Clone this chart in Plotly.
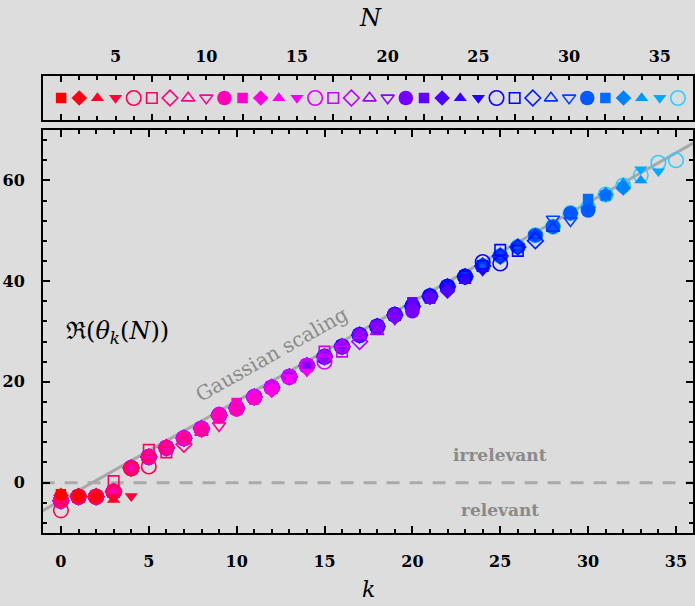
import colorsys
import plotly.graph_objects as go

# ---------------- data ----------------
N_values = list(range(2, 37))
k_values = list(range(36))

# typical (large-N) value of Re(theta_k) for each k
theta_bulk = [-3.6, -2.8, -2.8, -1.8, 2.9, 5.1, 6.9, 8.8, 10.7, 13.4,
              14.8, 17.0, 18.9, 21.0, 23.2, 25.0, 27.0, 29.3, 31.0, 33.3,
              35.0, 37.0, 38.9, 40.9, 43.0, 45.0, 46.8, 49.1, 50.8, 53.5,
              54.6, 57.2, 59.0, 61.0, 63.5, 64.0]

# value of the last point (k = N-1) of every series N = 2..36
theta_last = [-2.6, -2.7, -3.4, -2.7, 3.2, 6.0, 7.6, 10.0, 11.3, 14.5,
              16.5, 18.3, 20.3, 22.0, 24.0, 26.0, 28.0, 30.0, 32.5, 34.0,
              36.5, 38.0, 40.0, 42.0, 43.5, 46.0, 48.0, 50.5, 52.0, 54.0,
              57.0, 58.5, 60.0, 61.8, 64.0]

# individual points that differ from the bulk value
extra_N = [2, 3, 3, 4, 4, 4, 5, 5, 5, 5, 6, 6, 7, 7, 8, 10, 12, 17,
           22, 26, 27, 30, 32, 34, 35]
extra_k = [0, 0, 1, 0, 1, 2, 0, 1, 2, 3, 0, 4, 3, 5, 6, 8, 10, 15,
           20, 24, 25, 28, 30, 32, 33]
extra_v = [-2.3, -2.5, -2.6, -2.4, -2.6, -3.2, -2.5, -2.6, -2.7, -2.9,
           -5.5, 2.8, 0.3, 6.5, 7.0, 10.2, 15.8, 26.0,
           35.8, 43.8, 46.2, 52.3, 56.3, 59.5, 62.2]

# Gaussian scaling line end points
gauss_k = [-1.1, 36.5]
gauss_y = [-5.7, 68.4]

top_ticks_major = [2, 7, 12, 17, 22, 27, 32]
top_tick_labels = [5, 10, 15, 20, 25, 30, 35]
bottom_ticks = [0, 5, 10, 15, 20, 25, 30, 35]
y_ticks = [0, 20, 40, 60]

# ---------------- styles ----------------
shapes5 = ["circle", "square", "diamond", "triangle-up", "triangle-down"]
size_of = {"circle": 14.5, "square": 10.5, "diamond": 12,
           "triangle-up": 11.5, "triangle-down": 11.5}


def style(N):
    i = (N - 1) % 10
    base = shapes5[i % 5]
    is_open = i >= 5
    hue = (360 - (N - 2) * 165 / 34) % 360
    sat = 0.8 if N == 36 else 1.0
    r, g, b = colorsys.hsv_to_rgb(hue / 360, sat, 1.0)
    col = "#%02x%02x%02x" % (int(r * 255), int(g * 255), int(b * 255))
    sym = base + ("-open" if is_open else "")
    return sym, col, size_of[base], is_open


SERIF = "DejaVu Serif, Liberation Serif, serif"

fig = go.Figure()

# reference lines
fig.add_trace(go.Scatter(x=[-1.1, 36.5], y=[0, 0], mode="lines",
                         line=dict(color="#aaaaaa", width=3, dash="13px,10px"),
                         hoverinfo="skip", showlegend=False))
fig.add_trace(go.Scatter(x=gauss_k, y=gauss_y, mode="lines",
                         line=dict(color="#a8a8a8", width=3),
                         hoverinfo="skip", showlegend=False))

# data series, highest N first so that small N are drawn on top
for N in reversed(N_values):
    ks = k_values[:N]
    vals = list(theta_bulk[:N])
    vals[N - 1] = theta_last[N - 2]
    for n2, k2, v2 in zip(extra_N, extra_k, extra_v):
        if n2 == N and k2 < N:
            vals[k2] = v2
    sym, col, sz, is_open = style(N)
    fig.add_trace(go.Scatter(
        x=ks, y=vals, mode="markers", showlegend=False,
        marker=dict(symbol=sym, size=sz, color=col,
                    line=dict(width=1.6 if is_open else 0, color=col)),
        xaxis="x", yaxis="y"))

# strip legend
for N in N_values:
    sym, col, sz, is_open = style(N)
    fig.add_trace(go.Scatter(
        x=[N], y=[0.5], mode="markers", showlegend=False,
        marker=dict(symbol=sym, size=sz, color=col,
                    line=dict(width=1.6 if is_open else 0, color=col)),
        xaxis="x2", yaxis="y2"))

tickfont = dict(family=SERIF, size=16, color="black", weight="bold")

fig.update_layout(
    width=695, height=606,
    margin=dict(l=43, r=0, t=76, b=73),
    paper_bgcolor="#dddddd", plot_bgcolor="#dcdcdc",
    xaxis=dict(domain=[0, 1], range=[-1.02, 35.97], anchor="y",
               tickvals=bottom_ticks, ticks="inside", ticklen=7, tickwidth=2,
               tickcolor="black", showline=True, linewidth=2, linecolor="black",
               mirror="ticks", showgrid=False, zeroline=False,
               tickfont=tickfont, ticklabelstandoff=13,
               minor=dict(dtick=1, tick0=0, ticks="inside", ticklen=4,
                          tickwidth=1.5, tickcolor="black", showgrid=False)),
    yaxis=dict(domain=[0, 0.8818], range=[-10, 70], anchor="x",
               tickvals=y_ticks, ticks="inside", ticklen=7, tickwidth=2,
               tickcolor="black", showline=True, linewidth=2, linecolor="black",
               mirror="ticks", showgrid=False, zeroline=False,
               tickfont=tickfont, ticklabelstandoff=13,
               minor=dict(dtick=4, tick0=0, ticks="inside", ticklen=4,
                          tickwidth=1.5, tickcolor="black", showgrid=False)),
    xaxis2=dict(domain=[0, 1], range=[1.0, 36.83], anchor="y2", side="top",
                tickvals=top_ticks_major, showticklabels=False,
                ticks="inside", ticklen=6, tickwidth=2, tickcolor="black",
                showline=True, linewidth=2, linecolor="black", mirror="ticks",
                showgrid=False, zeroline=False,
                minor=dict(dtick=1, tick0=0, ticks="inside", ticklen=4,
                           tickwidth=1.5, tickcolor="black", showgrid=False)),
    xaxis3=dict(range=[1.0, 36.83], anchor="y2", overlaying="x2", side="top",
                tickvals=top_tick_labels, ticks="", showline=False,
                showgrid=False, zeroline=False, tickfont=tickfont,
                ticklabelstandoff=10),
    yaxis2=dict(domain=[0.9037, 1], range=[0, 1], anchor="x2",
                showticklabels=False, ticks="", showline=True, linewidth=2,
                linecolor="black", mirror=True, showgrid=False, zeroline=False),
)

# invisible trace to activate xaxis3
fig.add_trace(go.Scatter(x=[5], y=[0.5], mode="markers", opacity=0,
                         showlegend=False, hoverinfo="skip",
                         xaxis="x3", yaxis="y2"))

annots = [
    dict(text="<i>k</i>", x=0.5015, y=-0.1247, xref="paper", yref="paper",
         font=dict(family=SERIF, size=22, color="black")),
    dict(text="<i>N</i>", x=0.5046, y=1.127, xref="paper", yref="paper",
         font=dict(family=SERIF, size=24, color="black")),
    dict(text="ℜ(<i>θ<sub>k</sub></i>(<i>N</i>))", x=3.2, y=29.9,
         xref="x", yref="y", font=dict(family=SERIF, size=24, color="black")),
    dict(text="Gaussian scaling", x=12.0, y=25.6, xref="x", yref="y",
         textangle=-29.4, font=dict(family=SERIF, size=20, color="#8a8a8a")),
    dict(text="<b>irrelevant</b>", x=24.96, y=5.5, xref="x", yref="y",
         font=dict(family=SERIF, size=17, color="#8a8a8a")),
    dict(text="<b>relevant</b>", x=24.96, y=-5.5, xref="x", yref="y",
         font=dict(family=SERIF, size=17, color="#8a8a8a")),
]
for a in annots:
    a.update(showarrow=False, xanchor="center", yanchor="middle")
    fig.add_annotation(**a)

fig.write_html("out.html")
